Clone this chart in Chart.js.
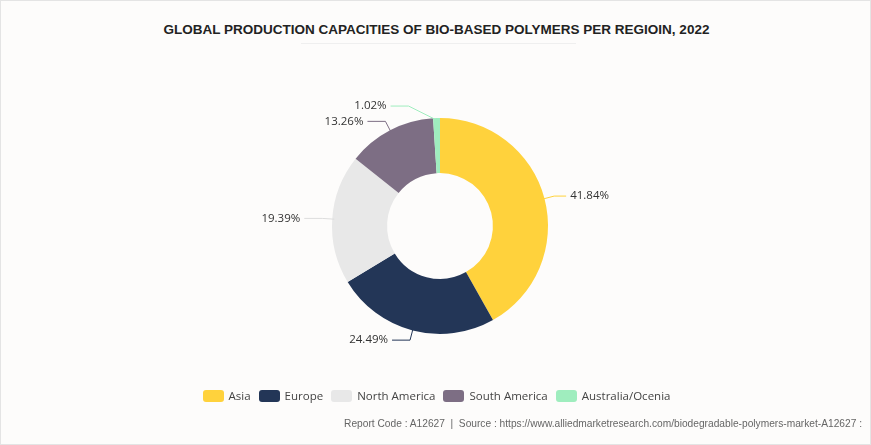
<!DOCTYPE html>
<html><head><meta charset="utf-8">
<script src="https://cdn.jsdelivr.net/npm/chart.js@4"></script>
<style>
html,body{margin:0;padding:0;background:#fdfcfb;}
#wrap{position:relative;width:869px;height:443px;border:1px solid #e4e4e4;overflow:hidden;font-family:"Liberation Sans",Arial,sans-serif;}
#title{position:absolute;left:0;width:871px;top:21px;text-align:center;font-weight:bold;font-size:13.5px;color:#222;}
#tline{position:absolute;left:300px;width:275px;top:42px;height:1px;background:#efefef;}
#c{position:absolute;left:0;top:0;}
#legend{position:absolute;top:387px;left:0;width:871px;display:flex;justify-content:center;font-family:"Open Sans",sans-serif;font-size:11.5px;color:#444;}
.li{display:flex;align-items:center;margin:0 4px;}
.sw{width:21px;height:12px;border-radius:3px;margin-right:5px;}
#foot{position:absolute;right:8px;top:417px;font-size:10.2px;color:#666;font-family:"Liberation Sans",Arial,sans-serif;}
</style></head><body>
<div id="wrap">
<div id="title">GLOBAL PRODUCTION CAPACITIES OF BIO-BASED POLYMERS PER REGIOIN, 2022</div>
<div id="tline"></div>
<canvas id="c" width="871" height="445"></canvas>
<div id="legend"></div>
<div id="foot">Report Code : A12627 &nbsp;|&nbsp; Source : https://www.alliedmarketresearch.com/biodegradable-polymers-market-A12627 :</div>
</div>
<script>
const categories=["Asia","Europe","North America","South America","Australia/Ocenia"];
const values=[41.84,24.49,19.39,13.26,1.02];
const colors=["#FFD23C","#233657","#E8E8E8","#7D6E84","#9FEDBE"];
const lg=document.getElementById('legend');
categories.forEach((c,i)=>{lg.innerHTML+=`<div class="li"><div class="sw" style="background:${colors[i]}"></div>${c}</div>`;});
const labelPlugin={id:'lbl',afterDatasetsDraw(chart){
 const ctx=chart.ctx;const meta=chart.getDatasetMeta(0);
 ctx.save();ctx.font='11.5px "Open Sans",sans-serif';ctx.fillStyle='#333';ctx.textBaseline='middle';
 meta.data.forEach((a,i)=>{
  const p=a.getProps(['x','y','startAngle','endAngle','outerRadius'],true);
  const m=(p.startAngle+p.endAngle)/2;
  let x1=p.x+Math.cos(m)*(p.outerRadius-2),y1=p.y+Math.sin(m)*(p.outerRadius-2);
  let x2=p.x+Math.cos(m)*(p.outerRadius+10),y2=p.y+Math.sin(m)*(p.outerRadius+10);
  if(i===4){x2=x1-28;y2=y1-14;}
  const right=Math.cos(m)>=0&&i!==4;
  const x3=x2+(right?12:-18);
  ctx.strokeStyle=colors[i]==="#E8E8E8"?"#ddd":colors[i];ctx.lineWidth=1;
  ctx.beginPath();ctx.moveTo(x1,y1);ctx.lineTo(x2,y2);ctx.lineTo(x3,y2);ctx.stroke();
  ctx.textAlign=right?'left':'right';
  ctx.fillText(values[i].toFixed(2)+'%',x3+(right?4:-4),y2);
 });ctx.restore();}};
new Chart(document.getElementById('c'),{type:'doughnut',
 data:{labels:categories,datasets:[{data:values,backgroundColor:colors,borderWidth:0}]},
 options:{responsive:false,animation:false,cutout:'49%',
  layout:{padding:{left:331,right:324,top:117,bottom:112}},
  plugins:{legend:{display:false},tooltip:{enabled:false}}},
 plugins:[labelPlugin]});
</script>
</body></html>
